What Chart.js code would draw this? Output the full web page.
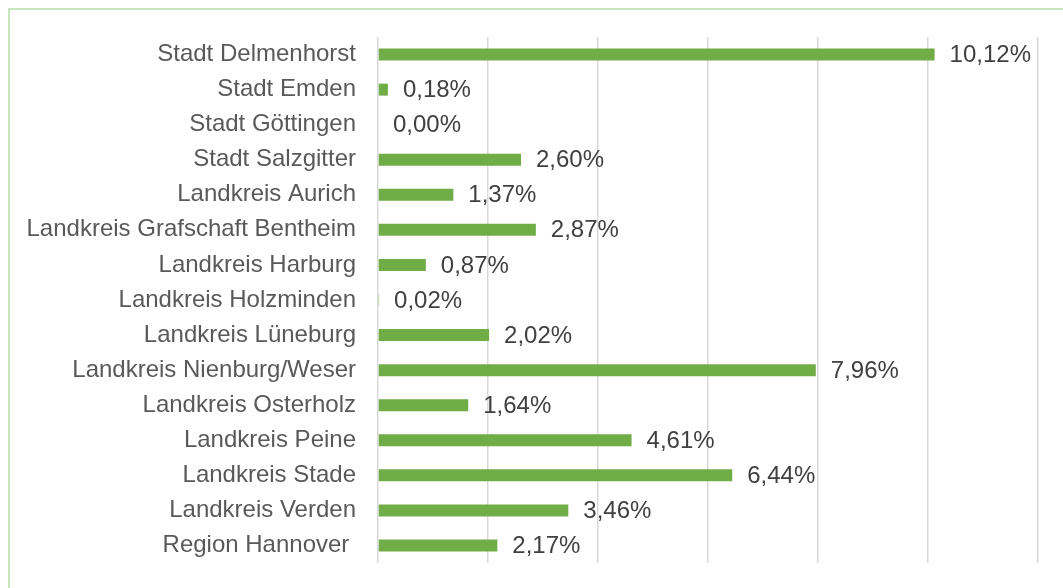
<!DOCTYPE html>
<html>
<head>
<meta charset="utf-8">
<script src="https://cdn.jsdelivr.net/npm/chart.js@4"></script>
<style>
html,body{margin:0;padding:0;background:#fff;}
#wrap{position:relative;width:1063px;height:588px;}
</style>
</head>
<body>
<div id="wrap"><canvas id="c" width="1063" height="588"></canvas></div>
<script>
const categories = [
  "Stadt Delmenhorst","Stadt Emden","Stadt Göttingen","Stadt Salzgitter",
  "Landkreis Aurich","Landkreis Grafschaft Bentheim","Landkreis Harburg",
  "Landkreis Holzminden","Landkreis Lüneburg","Landkreis Nienburg/Weser",
  "Landkreis Osterholz","Landkreis Peine","Landkreis Stade","Landkreis Verden",
  "Region Hannover "
];
const values = [10.12, 0.18, 0.00, 2.60, 1.37, 2.87, 0.87, 0.02, 2.02, 7.96, 1.64, 4.61, 6.44, 3.46, 2.17];
const valueLabels = ["10,12%","0,18%","0,00%","2,60%","1,37%","2,87%","0,87%","0,02%","2,02%","7,96%","1,64%","4,61%","6,44%","3,46%","2,17%"];
const xTicks = [0, 2, 4, 6, 8, 10, 12];

const FONT = "'Liberation Sans', Arial, sans-serif";

const borderPlugin = {
  id: 'frame',
  beforeDraw(chart) {
    const ctx = chart.ctx;
    ctx.save();
    ctx.fillStyle = '#ffffff';
    ctx.fillRect(0, 0, chart.width, chart.height);
    ctx.strokeStyle = '#b7dea5';
    ctx.lineWidth = 1.5;
    ctx.strokeRect(9, 9, 1200, 700);
    ctx.restore();
  }
};

const valueLabelPlugin = {
  id: 'valueLabels',
  afterDatasetsDraw(chart) {
    const ctx = chart.ctx;
    const meta = chart.getDatasetMeta(0);
    const xs = chart.scales.x;
    ctx.save();
    ctx.font = "24px " + FONT;
    ctx.fillStyle = '#404040';
    ctx.textAlign = 'left';
    ctx.textBaseline = 'middle';
    meta.data.forEach((bar, i) => {
      const x = xs.getPixelForValue(values[i]) + 15;
      ctx.fillText(valueLabels[i], x, bar.y + 1);
    });
    ctx.restore();
  }
};

new Chart(document.getElementById('c'), {
  type: 'bar',
  data: {
    labels: categories,
    datasets: [{
      data: values,
      backgroundColor: '#70ad47',
      borderWidth: 0,
      categoryPercentage: 1,
      barPercentage: 0.342
    }]
  },
  options: {
    indexAxis: 'y',
    responsive: false,
    animation: false,
    devicePixelRatio: 1,
    layout: { padding: { left: 0, right: 25, top: 37, bottom: 25 } },
    plugins: { legend: { display: false }, tooltip: { enabled: false } },
    scales: {
      x: {
        min: 0, max: 12,
        afterBuildTicks(scale) { scale.ticks = xTicks.map(v => ({ value: v })); },
        afterFit(scale) { scale.height = 0; },
        ticks: { display: false },
        grid: { color: '#d9d9d9', lineWidth: 1.5, drawTicks: false },
        border: { display: false }
      },
      y: {
        afterFit(scale) { scale.width = 378; scale.paddingTop = 0; scale.paddingBottom = 0; },
        ticks: { color: '#595959', font: { family: FONT, size: 24 }, padding: 22, autoSkip: false },
        grid: { display: false, drawTicks: false },
        border: { display: false }
      }
    }
  },
  plugins: [borderPlugin, valueLabelPlugin]
});
</script>
</body>
</html>
